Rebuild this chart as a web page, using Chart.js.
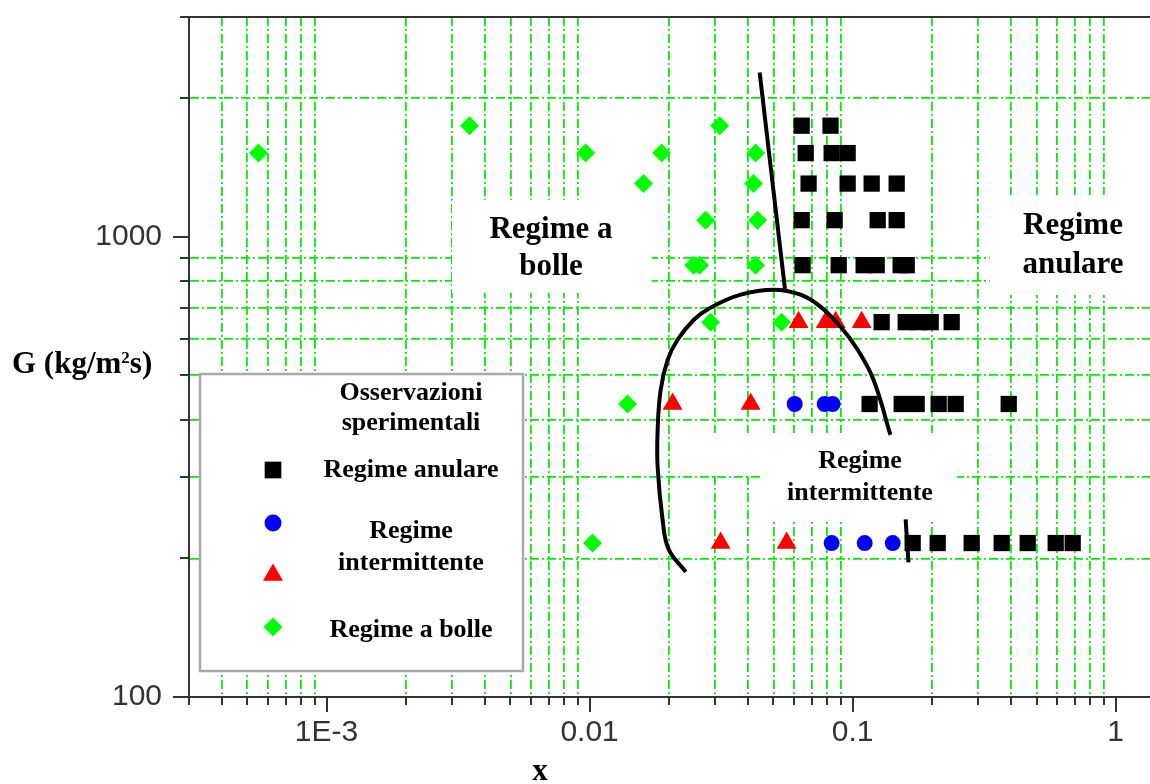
<!DOCTYPE html>
<html>
<head>
<meta charset="utf-8">
<script src="https://cdn.jsdelivr.net/npm/chart.js@4.4.1/dist/chart.umd.min.js"></script>
<style>
  html, body { margin: 0; padding: 0; background: #ffffff; overflow: hidden; }
  #wrap { width: 1150px; height: 784px; }
  canvas { display: block; }
</style>
</head>
<body>
<div id="wrap"><canvas id="c" width="1150" height="784"></canvas></div>
<script>
// ---------- tick values / labels ----------
const X_TICKS = [0.0003, 0.0004, 0.0005, 0.0006, 0.0007, 0.0008, 0.0009,
                 0.001, 0.002, 0.003, 0.004, 0.005, 0.006, 0.007, 0.008, 0.009,
                 0.01, 0.02, 0.03, 0.04, 0.05, 0.06, 0.07, 0.08, 0.09,
                 0.1, 0.2, 0.3, 0.4, 0.5, 0.6, 0.7, 0.8, 0.9, 1];
const X_MAJOR = [0.001, 0.01, 0.1, 1];
const X_LABELS = ['1E-3', '0.01', '0.1', '1'];

const Y_TICKS = [100, 200, 300, 400, 500, 600, 700, 800, 900, 1000, 2000, 3000];
const Y_MAJOR = [100, 1000];
const Y_LABELS = ['100', '1000'];

// ---------- experimental observations ----------
// Regime anulare (black squares)
const ANULARE_X = [0.0640, 0.0824,
                   0.0663, 0.0832, 0.0957,
                   0.0680, 0.0957, 0.1181, 0.1470,
                   0.0640, 0.0854, 0.1245, 0.1470,
                   0.0645, 0.0885, 0.1101, 0.1234, 0.1522, 0.1605,
                   0.1289, 0.1591, 0.1782, 0.1980, 0.2379,
                   0.1160, 0.1536, 0.1751, 0.2123, 0.2464, 0.3920,
                   0.1691, 0.2105, 0.2835, 0.3686, 0.4628, 0.5914, 0.6862];
const ANULARE_G = [1742, 1742,
                   1519, 1519, 1519,
                   1304, 1304, 1304, 1304,
                   1086, 1086, 1086, 1086,
                   867, 867, 867, 867, 867, 867,
                   652, 652, 652, 652, 652,
                   433, 433, 433, 433, 433, 433,
                   216, 216, 216, 216, 216, 216, 216];

// Regime intermittente (blue circles)
const INTERM_C_X = [0.0602, 0.0783, 0.0839, 0.0832, 0.1111, 0.1420];
const INTERM_C_G = [433, 433, 433, 216, 216, 216];

// Regime intermittente (red triangles)
const INTERM_T_X = [0.0623, 0.0790, 0.0862, 0.1082, 0.02068, 0.04095, 0.03149, 0.0561];
const INTERM_T_G = [652, 652, 652, 652, 433, 433, 216, 216];

// Regime a bolle (green diamonds)
const BOLLE_X = [0.003497, 0.03122,
                 0.000551, 0.00966, 0.01878, 0.04278,
                 0.01604, 0.04203,
                 0.02761, 0.04353,
                 0.02486, 0.02620, 0.04278,
                 0.02885, 0.05370,
                 0.01395,
                 0.01026];
const BOLLE_G = [1742, 1742,
                 1519, 1519, 1519, 1519,
                 1304, 1304,
                 1086, 1086,
                 867, 867, 867,
                 652, 652,
                 433,
                 216];

// ---------- transition boundaries ----------
const ARC_X = [0.0232, 0.0200, 0.0190, 0.01814, 0.01814, 0.01862, 0.0198, 0.0216, 0.0249,
               0.0288, 0.0375, 0.0501, 0.0634, 0.0756, 0.0900, 0.1045, 0.1200, 0.1392];
const ARC_G = [187, 209, 239, 316, 380, 464, 540, 597, 660,
               701, 748, 767, 748, 704, 637, 568, 489, 371];
const LINE1_X = [0.0443, 0.0553];
const LINE1_G = [2274, 770];
const LINE3_X = [0.159, 0.163];
const LINE3_G = [243, 196];

// ---------- helpers ----------
const pts = (xs, ys) => xs.map((x, i) => ({ x: x, y: ys[i] }));
const idxOf = (arr, v) => arr.findIndex(m => Math.abs(m - v) / m < 1e-6);

const GREEN = 'rgb(0,240,0)';
const SERIF = '"Liberation Serif", "Times New Roman", serif';
const SANS = '"Liberation Sans", Arial, sans-serif';

const overlay = {
  id: 'overlay',
  beforeDatasetsDraw(chart) {
    const ctx = chart.ctx;
    ctx.save();
    // white boxes behind in-plot texts (they hide the grid)
    ctx.fillStyle = '#ffffff';
    [[452, 200, 652, 293], [990, 195, 1150, 295], [700, 433, 765, 476], [763, 433, 957, 520]]
      .forEach(b => ctx.fillRect(b[0], b[1], b[2] - b[0], b[3] - b[1]));

    // legend box
    ctx.fillRect(200, 374, 323, 297);
    ctx.lineWidth = 2.5;
    ctx.strokeStyle = '#a9a9a9';
    ctx.strokeRect(200, 374, 323, 297);

    // legend markers
    const mk = (style, r, color, x, y) => {
      ctx.fillStyle = color;
      Chart.helpers.drawPoint(ctx, { pointStyle: style, radius: r, rotation: 0, borderWidth: 0 }, x, y);
    };
    mk('rect', 11.8, '#000000', 273, 470);
    mk('circle', 8.5, '#0000ff', 273, 523);
    mk('triangle', 11.5, '#ff0000', 273, 575);
    mk('rectRot', 9.5, '#00ff00', 273, 627);

    // legend texts
    ctx.fillStyle = '#000000';
    ctx.textAlign = 'center';
    ctx.textBaseline = 'alphabetic';
    ctx.font = 'bold 26px ' + SERIF;
    ctx.fillText('Osservazioni', 411, 400);
    ctx.fillText('sperimentali', 411, 430);
    ctx.fillText('Regime anulare', 411, 477);
    ctx.fillText('Regime', 411, 538);
    ctx.fillText('intermittente', 411, 570);
    ctx.fillText('Regime a bolle', 411, 637);

    // region annotations
    ctx.font = 'bold 31px ' + SERIF;
    ctx.fillText('Regime a', 551, 238);
    ctx.fillText('bolle', 551, 275);
    ctx.fillText('Regime', 1073, 234);
    ctx.fillText('anulare', 1073, 273);
    ctx.font = 'bold 26px ' + SERIF;
    ctx.fillText('Regime', 860, 468);
    ctx.fillText('intermittente', 860, 500);
    ctx.restore();
  },
  afterDraw(chart) {
    const ctx = chart.ctx;
    const a = chart.chartArea;
    const xs = chart.scales.x, ys = chart.scales.y;
    ctx.save();
    ctx.strokeStyle = '#333333';
    ctx.lineWidth = 2;
    ctx.beginPath();
    // top frame line
    ctx.moveTo(a.left, a.top);
    ctx.lineTo(a.right, a.top);
    // x tick marks
    X_TICKS.forEach(v => {
      const px = Math.round(xs.getPixelForValue(v));
      const len = idxOf(X_MAJOR, v) >= 0 ? 15 : 8;
      ctx.moveTo(px, a.bottom);
      ctx.lineTo(px, a.bottom + len);
    });
    // y tick marks
    Y_TICKS.forEach(v => {
      const py = Math.round(ys.getPixelForValue(v));
      const len = idxOf(Y_MAJOR, v) >= 0 ? 16 : 9;
      ctx.moveTo(a.left - len, py);
      ctx.lineTo(a.left, py);
    });
    ctx.stroke();

    // axis titles
    ctx.fillStyle = '#000000';
    ctx.textBaseline = 'alphabetic';
    ctx.textAlign = 'center';
    ctx.font = 'bold 31px ' + SERIF;
    ctx.fillText('x', 540, 780);
    ctx.textAlign = 'left';
    let x = 12;
    const base = 373;
    ctx.fillText('G (kg/m', x, base);
    x += ctx.measureText('G (kg/m').width;
    ctx.font = 'bold 17px ' + SERIF;
    ctx.fillText('2', x, base - 10);
    x += ctx.measureText('2').width;
    ctx.font = 'bold 31px ' + SERIF;
    ctx.fillText('s)', x, base);
    ctx.restore();
  }
};

const markerDs = (label, xs, ys, style, r, color) => ({
  label: label,
  data: pts(xs, ys),
  pointStyle: style,
  pointRadius: r,
  pointHoverRadius: r,
  pointBackgroundColor: color,
  backgroundColor: color,
  pointBorderWidth: 0,
  borderWidth: 0,
  showLine: false
});
const curveDs = (label, xs, ys, tension) => ({
  label: label,
  data: pts(xs, ys),
  showLine: true,
  borderColor: '#000000',
  borderWidth: 4,
  pointRadius: 0,
  pointHoverRadius: 0,
  tension: tension,
  fill: false
});

new Chart(document.getElementById('c'), {
  type: 'scatter',
  data: {
    datasets: [
      curveDs('Confine bolle/intermittente/anulare', ARC_X, ARC_G, 0.4),
      curveDs('Confine bolle/anulare', LINE1_X, LINE1_G, 0),
      curveDs('Confine intermittente/anulare', LINE3_X, LINE3_G, 0),
      markerDs('Regime intermittente (triangoli)', INTERM_T_X, INTERM_T_G, 'triangle', 11.5, '#ff0000'),
      markerDs('Regime a bolle', BOLLE_X, BOLLE_G, 'rectRot', 9.5, '#00ff00'),
      markerDs('Regime intermittente', INTERM_C_X, INTERM_C_G, 'circle', 8, '#0000ff'),
      markerDs('Regime anulare', ANULARE_X, ANULARE_G, 'rect', 11.5, '#000000')
    ]
  },
  options: {
    responsive: false,
    animation: false,
    events: [],
    layout: { autoPadding: false, padding: { top: 17, left: 0, right: 0, bottom: 0 } },
    plugins: { legend: { display: false }, tooltip: { enabled: false } },
    scales: {
      x: {
        type: 'logarithmic',
        position: 'bottom',
        bounds: 'data',
        min: 0.0003,
        max: 1.35,
        afterBuildTicks: s => { s.ticks = X_TICKS.map(v => ({ value: v, major: idxOf(X_MAJOR, v) >= 0 })); },
        afterFit: s => { s.height = 87; s.paddingLeft = 0; s.paddingRight = 0; },
        grid: {
          color: c => (c.tick && c.tick.major) ? 'rgba(0,0,0,0)' : GREEN,
          lineWidth: 1.8,
          drawTicks: false
        },
        border: { display: true, color: '#333333', width: 2, dash: [9, 3, 2, 3] },
        ticks: {
          autoSkip: false, maxRotation: 0, minRotation: 0, padding: 18,
          color: '#333333', font: { family: SANS, size: 30 },
          callback: v => { const i = idxOf(X_MAJOR, v); return i >= 0 ? X_LABELS[i] : ''; }
        }
      },
      y: {
        type: 'logarithmic',
        position: 'left',
        bounds: 'data',
        min: 100,
        max: 3000,
        afterBuildTicks: s => { s.ticks = Y_TICKS.map(v => ({ value: v, major: idxOf(Y_MAJOR, v) >= 0 })); },
        afterFit: s => { s.width = 189; s.paddingTop = 0; s.paddingBottom = 0; },
        grid: {
          color: c => (c.tick && c.tick.major) ? 'rgba(0,0,0,0)' : GREEN,
          lineWidth: 1.8,
          drawTicks: false
        },
        border: { display: true, color: '#333333', width: 2, dash: [9, 3, 2, 3] },
        ticks: {
          autoSkip: false, padding: 27,
          color: '#333333', font: { family: SANS, size: 30 },
          callback: v => { const i = idxOf(Y_MAJOR, v); return i >= 0 ? Y_LABELS[i] : ''; }
        }
      }
    }
  },
  plugins: [overlay]
});
</script>
</body>
</html>
